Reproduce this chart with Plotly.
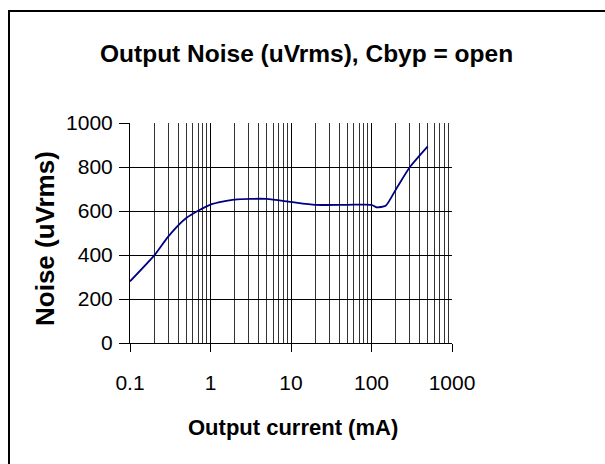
import plotly.graph_objects as go

# Data
current_ma = [0.1, 0.2, 0.3, 0.5, 1, 2, 5, 10, 20, 50, 100, 115, 150, 200, 300, 500]
noise_uvrms = [280, 398, 485, 568, 629, 652, 655, 641, 628, 628, 628, 617, 624, 697, 800, 894]

x_tickvals = [0.1, 1, 10, 100, 1000]
x_ticktext = ["0.1", "1", "10", "100", "1000"]
y_tickvals = [0, 200, 400, 600, 800, 1000]

W, H = 605, 464
L, R, T, B = 130, 452, 123, 343  # plot area in pixels
pw, ph = R - L, B - T


def px(x):
    return (x - L) / pw


def py(y):
    return (B - y) / ph


SANS = "Liberation Sans, Arial, sans-serif"

fig = go.Figure()
fig.add_trace(go.Scatter(
    x=current_ma, y=noise_uvrms, mode="lines",
    line=dict(color="#000080", width=1.8, shape="spline", smoothing=0.6),
    showlegend=False, hoverinfo="skip",
))

fig.update_layout(
    width=W, height=H,
    margin=dict(l=L, r=W - R, t=T, b=H - B, pad=0),
    paper_bgcolor="white", plot_bgcolor="white",
    showlegend=False,
    xaxis=dict(
        type="log", range=[-1, 3],
        tickvals=x_tickvals, ticktext=x_ticktext,
        ticks="outside", ticklen=8, tickcolor="black", tickwidth=1,
        showgrid=True, gridcolor="black", gridwidth=1,
        minor=dict(dtick="D1", showgrid=True, gridcolor="#333", gridwidth=1, ticks=""),
        showline=True, linecolor="black", linewidth=1,
        tickfont=dict(family=SANS, size=21, color="black"),
        ticklabelstandoff=13,
        zeroline=False, fixedrange=True,
    ),
    yaxis=dict(
        range=[0, 1000], tickvals=y_tickvals,
        ticks="outside", ticklen=10, tickcolor="black", tickwidth=1,
        showgrid=True, gridcolor="black", gridwidth=1,
        showline=True, linecolor="black", linewidth=1,
        tickfont=dict(family=SANS, size=21, color="black"),
        ticklabelstandoff=2,
        zeroline=False, fixedrange=True,
    ),
    annotations=[
        dict(text="<b>Output Noise (uVrms), Cbyp = open</b>", xref="paper", yref="paper",
             x=px(306.5), y=py(53), xanchor="center", yanchor="middle", showarrow=False,
             font=dict(family=SANS, size=24.5, color="black")),
        dict(text="<b>Output current (mA)</b>", xref="paper", yref="paper",
             x=px(293), y=py(427), xanchor="center", yanchor="middle", showarrow=False,
             font=dict(family=SANS, size=22, color="black")),
        dict(text="<b>Noise (uVrms)</b>", xref="paper", yref="paper",
             x=px(45), y=py(239), xanchor="center", yanchor="middle", showarrow=False,
             textangle=-90, font=dict(family=SANS, size=26, color="black")),
    ],
    shapes=[
        dict(type="rect", xref="paper", yref="paper", layer="above",
             x0=px(9), x1=px(800), y0=py(700), y1=py(11),
             line=dict(color="black", width=2), fillcolor="rgba(0,0,0,0)"),
    ],
)

fig.write_html("out.html", config={"displayModeBar": False},
               post_script="document.body.style.margin='0';document.body.style.overflow='hidden';")
